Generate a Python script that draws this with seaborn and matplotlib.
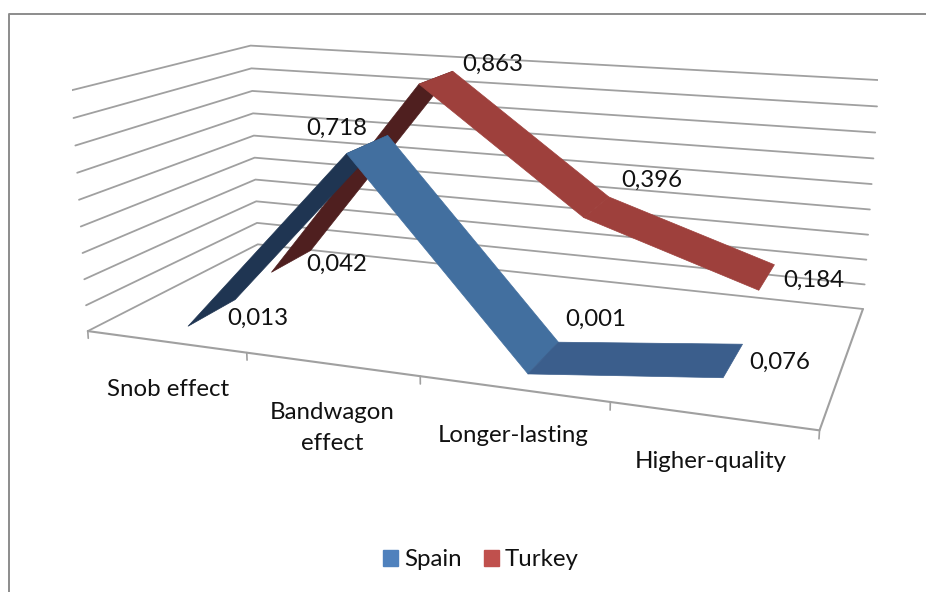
import numpy as np
import matplotlib
matplotlib.use('Agg')
import matplotlib.pyplot as plt
from matplotlib.lines import Line2D
from matplotlib.patches import Patch
from mpl_toolkits.mplot3d import proj3d
from mpl_toolkits.mplot3d.art3d import Poly3DCollection
import seaborn as sns

categories = ['Snob effect', 'Bandwagon\neffect', 'Longer-lasting', 'Higher-quality']
spain = [0.013, 0.718, 0.001, 0.076]
turkey = [0.042, 0.863, 0.396, 0.184]
spain_labels = ['0,013', '0,718', '0,001', '0,076']
turkey_labels = ['0,042', '0,863', '0,396', '0,184']
value_ticks = [0, 0.1, 0.2, 0.3, 0.4, 0.5, 0.6, 0.7, 0.8, 0.9]

sns.set_theme(style='white')
plt.rcParams['font.family'] = ['Lato', 'DejaVu Sans']
palette = sns.color_palette(['#4F81BD', '#C0504D'])
grid_col = '#a0a0a0'
txt_col = '#111111'
fs = 17.3

fig = plt.figure(figsize=(9.26, 5.92), dpi=100)

# chart frame, only top and left are inside the crop
fig.add_artist(Line2D([8.5/926, 8.5/926, 1], [0, 1 - 14/592, 1 - 14/592], transform=fig.transFigure,
                      color='#8c8c8c', lw=1.4))

ax = fig.add_subplot(projection='3d', computed_zorder=False)
ax.set_position([72.087/926, -26.581/592, 805.868/926, 805.868/592])
ax.set_xlim(0, 4, view_margin=0)
ax.set_ylim(0, 1, view_margin=0)
ax.set_zlim(0, 0.9, view_margin=0)
ax.view_init(elev=13.891, azim=-69.934, roll=-0.19)
ax.set_proj_type('persp', focal_length=0.329)
ax.set_box_aspect((1, 0.483, 0.338))
ax.set_xticks([])
ax.set_yticks([])
ax.set_zticks([])
ax.set_axis_off()
ax.patch.set_alpha(0)

# walls and floor
for v in value_ticks:
    ax.plot([0, 0, 4], [0, 1, 1], [v, v, v], color=grid_col, lw=1.3, zorder=1)
ax.plot([0, 4, 4], [0, 0, 1], [0, 0, 0], color=grid_col, lw=1.5, zorder=1)
for i in range(5):
    ax.plot([i, i], [0, 0], [0, -0.028], color=grid_col, lw=1.2, zorder=1)


def ribbon(vals, d0, d1, cols, z):
    for i in range(len(vals) - 1):
        quad = [(i + .5, d0, vals[i]), (i + 1.5, d0, vals[i + 1]),
                (i + 1.5, d1, vals[i + 1]), (i + .5, d1, vals[i])]
        ax.add_collection3d(Poly3DCollection([quad], facecolors=cols[i], edgecolors=cols[i],
                                             linewidths=.5, zorder=z))


def labels(vals, texts, d1, offsets, va='center'):
    M = ax.get_proj()
    for i, (s, off) in enumerate(zip(texts, offsets)):
        X, Y, _ = proj3d.proj_transform(i + .5, d1, vals[i], M)
        ax.annotate(s, xy=(X, Y), xytext=off, textcoords='offset pixels', fontsize=fs, linespacing=1.6,
                    color=txt_col, ha='center', va=va, annotation_clip=False, zorder=6)


ribbon(turkey, 0.62, 0.895, ['#4F1F1F', '#9E403C', '#9E403C'], 3)
ribbon(spain, 0.117, 0.387, ['#1F3552', '#426F9F', '#3B5E8C'], 4)

labels(spain, spain_labels, 0.387, [(23, -19), (-50, 7), (38, 22), (38, -19)])
labels(turkey, turkey_labels, 0.895, [(27, -14), (41, 6), (43, 16), (40, -16)])

label_z = [-0.145, -0.14, -0.13, -0.12]
labels(label_z, categories, 0, [(0, 0)] * 4, va='top')

handles = [Patch(color=palette[0], label='Spain'), Patch(color=palette[1], label='Turkey')]
fig.legend(handles=handles, loc='center', bbox_to_anchor=(481/926, 1 - 560/592), ncol=2, frameon=False,
           fontsize=fs, handlelength=.6, handleheight=.62, handletextpad=.25, columnspacing=.95,
           labelcolor=txt_col)

fig.savefig('out.png', dpi=100)
